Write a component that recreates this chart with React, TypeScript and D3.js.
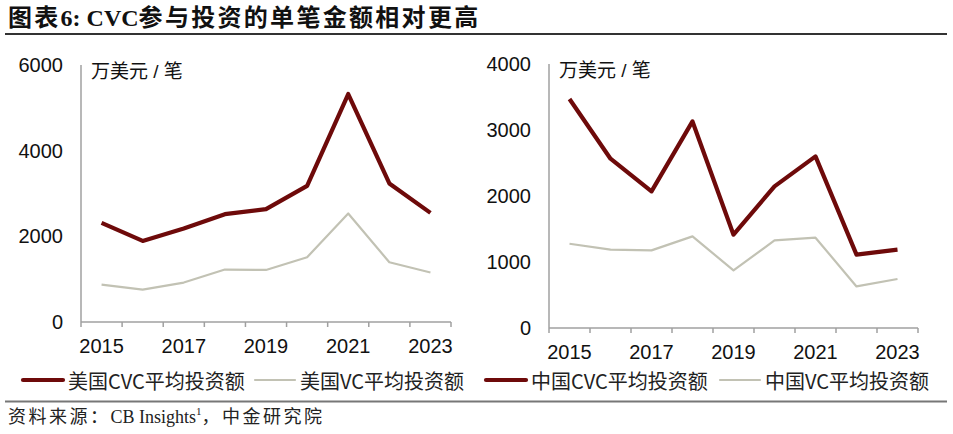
import { scaleBand, scaleLinear, line } from 'd3'

const years = ['2015', '2016', '2017', '2018', '2019', '2020', '2021', '2022', '2023']
const yearLabels = ['2015', '2017', '2019', '2021', '2023']

const usCvc = [2314, 1893, 2183, 2517, 2634, 3179, 5322, 3235, 2548]
const usVc = [874, 757, 921, 1225, 1215, 1512, 2534, 1395, 1155]
const cnCvc = [3470, 2565, 2070, 3130, 1414, 2146, 2600, 1111, 1187]
const cnVc = [1277, 1187, 1176, 1388, 873, 1327, 1368, 630, 742]

const usTicks = [0, 2000, 4000, 6000]
const cnTicks = [0, 1000, 2000, 3000, 4000]

const CVC_COLOR = '#6e0a0a'
const VC_COLOR = '#c2c2b4'
const AXIS_COLOR = '#a0a0a0'
const SANS = 'Liberation Sans, Arial, Noto Sans CJK SC, sans-serif'
const SERIF = 'Liberation Serif, Times New Roman, Noto Sans CJK SC, serif'

interface PanelProps {
  left: number
  right: number
  top: number
  bottom: number
  max: number
  ticks: number[]
  cvc: number[]
  vc: number[]
  labelY: number
}

function Panel({ left, right, top, bottom, max, ticks, cvc, vc, labelY }: PanelProps) {
  const x = scaleBand<string>().domain(years).range([left, right]).padding(0)
  const y = scaleLinear().domain([0, max]).range([bottom, top])
  const cx = (i: number) => (x(years[i]) ?? 0) + x.bandwidth() / 2
  const gen = line<number>()
    .x((_, i) => cx(i))
    .y((d) => y(d))

  // tick marks sit on the category boundaries
  const bounds = years.map((yr) => x(yr) ?? 0).concat([right])

  return (
    <g>
      <line x1={left} x2={left} y1={top} y2={bottom} stroke={AXIS_COLOR} strokeWidth={1.5} />
      <line x1={left} x2={right} y1={bottom} y2={bottom} stroke={AXIS_COLOR} strokeWidth={1.5} />
      {bounds.map((b, i) => (
        <line key={i} x1={b} x2={b} y1={bottom} y2={bottom + 5} stroke={AXIS_COLOR} strokeWidth={1.5} />
      ))}
      {ticks.map((t) => (
        <text
          key={t}
          x={left - 18}
          y={y(t)}
          textAnchor="end"
          dominantBaseline="central"
          fontFamily={SANS}
          fontSize={20}
          fill="#111"
        >
          {t}
        </text>
      ))}
      {yearLabels.map((yr) => (
        <text
          key={yr}
          x={(x(yr) ?? 0) + x.bandwidth() / 2}
          y={labelY}
          textAnchor="middle"
          dominantBaseline="central"
          fontFamily={SANS}
          fontSize={20}
          fill="#111"
        >
          {yr}
        </text>
      ))}
      <text x={left + 10} y={top + 6} dominantBaseline="central" fontFamily={SANS} fontSize={19} fill="#111">
        万美元 / 笔
      </text>
      <path d={gen(vc) ?? ''} fill="none" stroke={VC_COLOR} strokeWidth={2.2} strokeLinejoin="round" />
      <path d={gen(cvc) ?? ''} fill="none" stroke={CVC_COLOR} strokeWidth={4.2} strokeLinejoin="round" />
    </g>
  )
}

const legendItems = [
  { name: '美国CVC平均投资额', color: CVC_COLOR, width: 4.2, x: 23 },
  { name: '美国VC平均投资额', color: VC_COLOR, width: 2.2, x: 255 },
  { name: '中国CVC平均投资额', color: CVC_COLOR, width: 4.2, x: 486 },
  { name: '中国VC平均投资额', color: VC_COLOR, width: 2.2, x: 720 },
]

export default function App() {
  return (
    <svg
      width={953}
      height={434}
      style={{ position: 'absolute', left: 0, top: 0, background: '#fff' }}
    >
      <text x={8} y={18} dominantBaseline="central" fontFamily={SERIF} fontWeight="bold" fontSize={24} fill="#111">
        <tspan letterSpacing={2.3}>图表</tspan>
        <tspan>6: CVC</tspan>
        <tspan letterSpacing={2.3}>参与投资的单笔金额相对更高</tspan>
      </text>
      <line x1={5} x2={947} y1={34} y2={34} stroke="#333" strokeWidth={1.8} />

      <Panel left={81} right={451} top={65} bottom={322} max={6000} ticks={usTicks} cvc={usCvc} vc={usVc} labelY={346} />
      <Panel left={549} right={918} top={64} bottom={328} max={4000} ticks={cnTicks} cvc={cnCvc} vc={cnVc} labelY={352} />

      {legendItems.map((it) => (
        <g key={it.name}>
          <line x1={it.x} x2={it.x + 40} y1={380} y2={380} stroke={it.color} strokeWidth={it.width} strokeLinecap="round" />
          <text
            x={it.x + 45}
            y={380}
            dominantBaseline="central"
            fontFamily="Noto Sans CJK SC, sans-serif"
            fontSize={20}
            fill="#222"
          >
            {it.name}
          </text>
        </g>
      ))}

      <line x1={5} x2={947} y1={401.5} y2={401.5} stroke="#777" strokeWidth={1.8} />
      <text x={8} y={417} dominantBaseline="central" fontFamily={SERIF} fontSize={18} fill="#222">
        <tspan letterSpacing={2.5}>资料来源：</tspan>
        <tspan>CB Insights</tspan>
        <tspan fontSize={11} dy={-6}>1</tspan>
        <tspan dy={6} letterSpacing={2.5}>，中金研究院</tspan>
      </text>
    </svg>
  )
}
